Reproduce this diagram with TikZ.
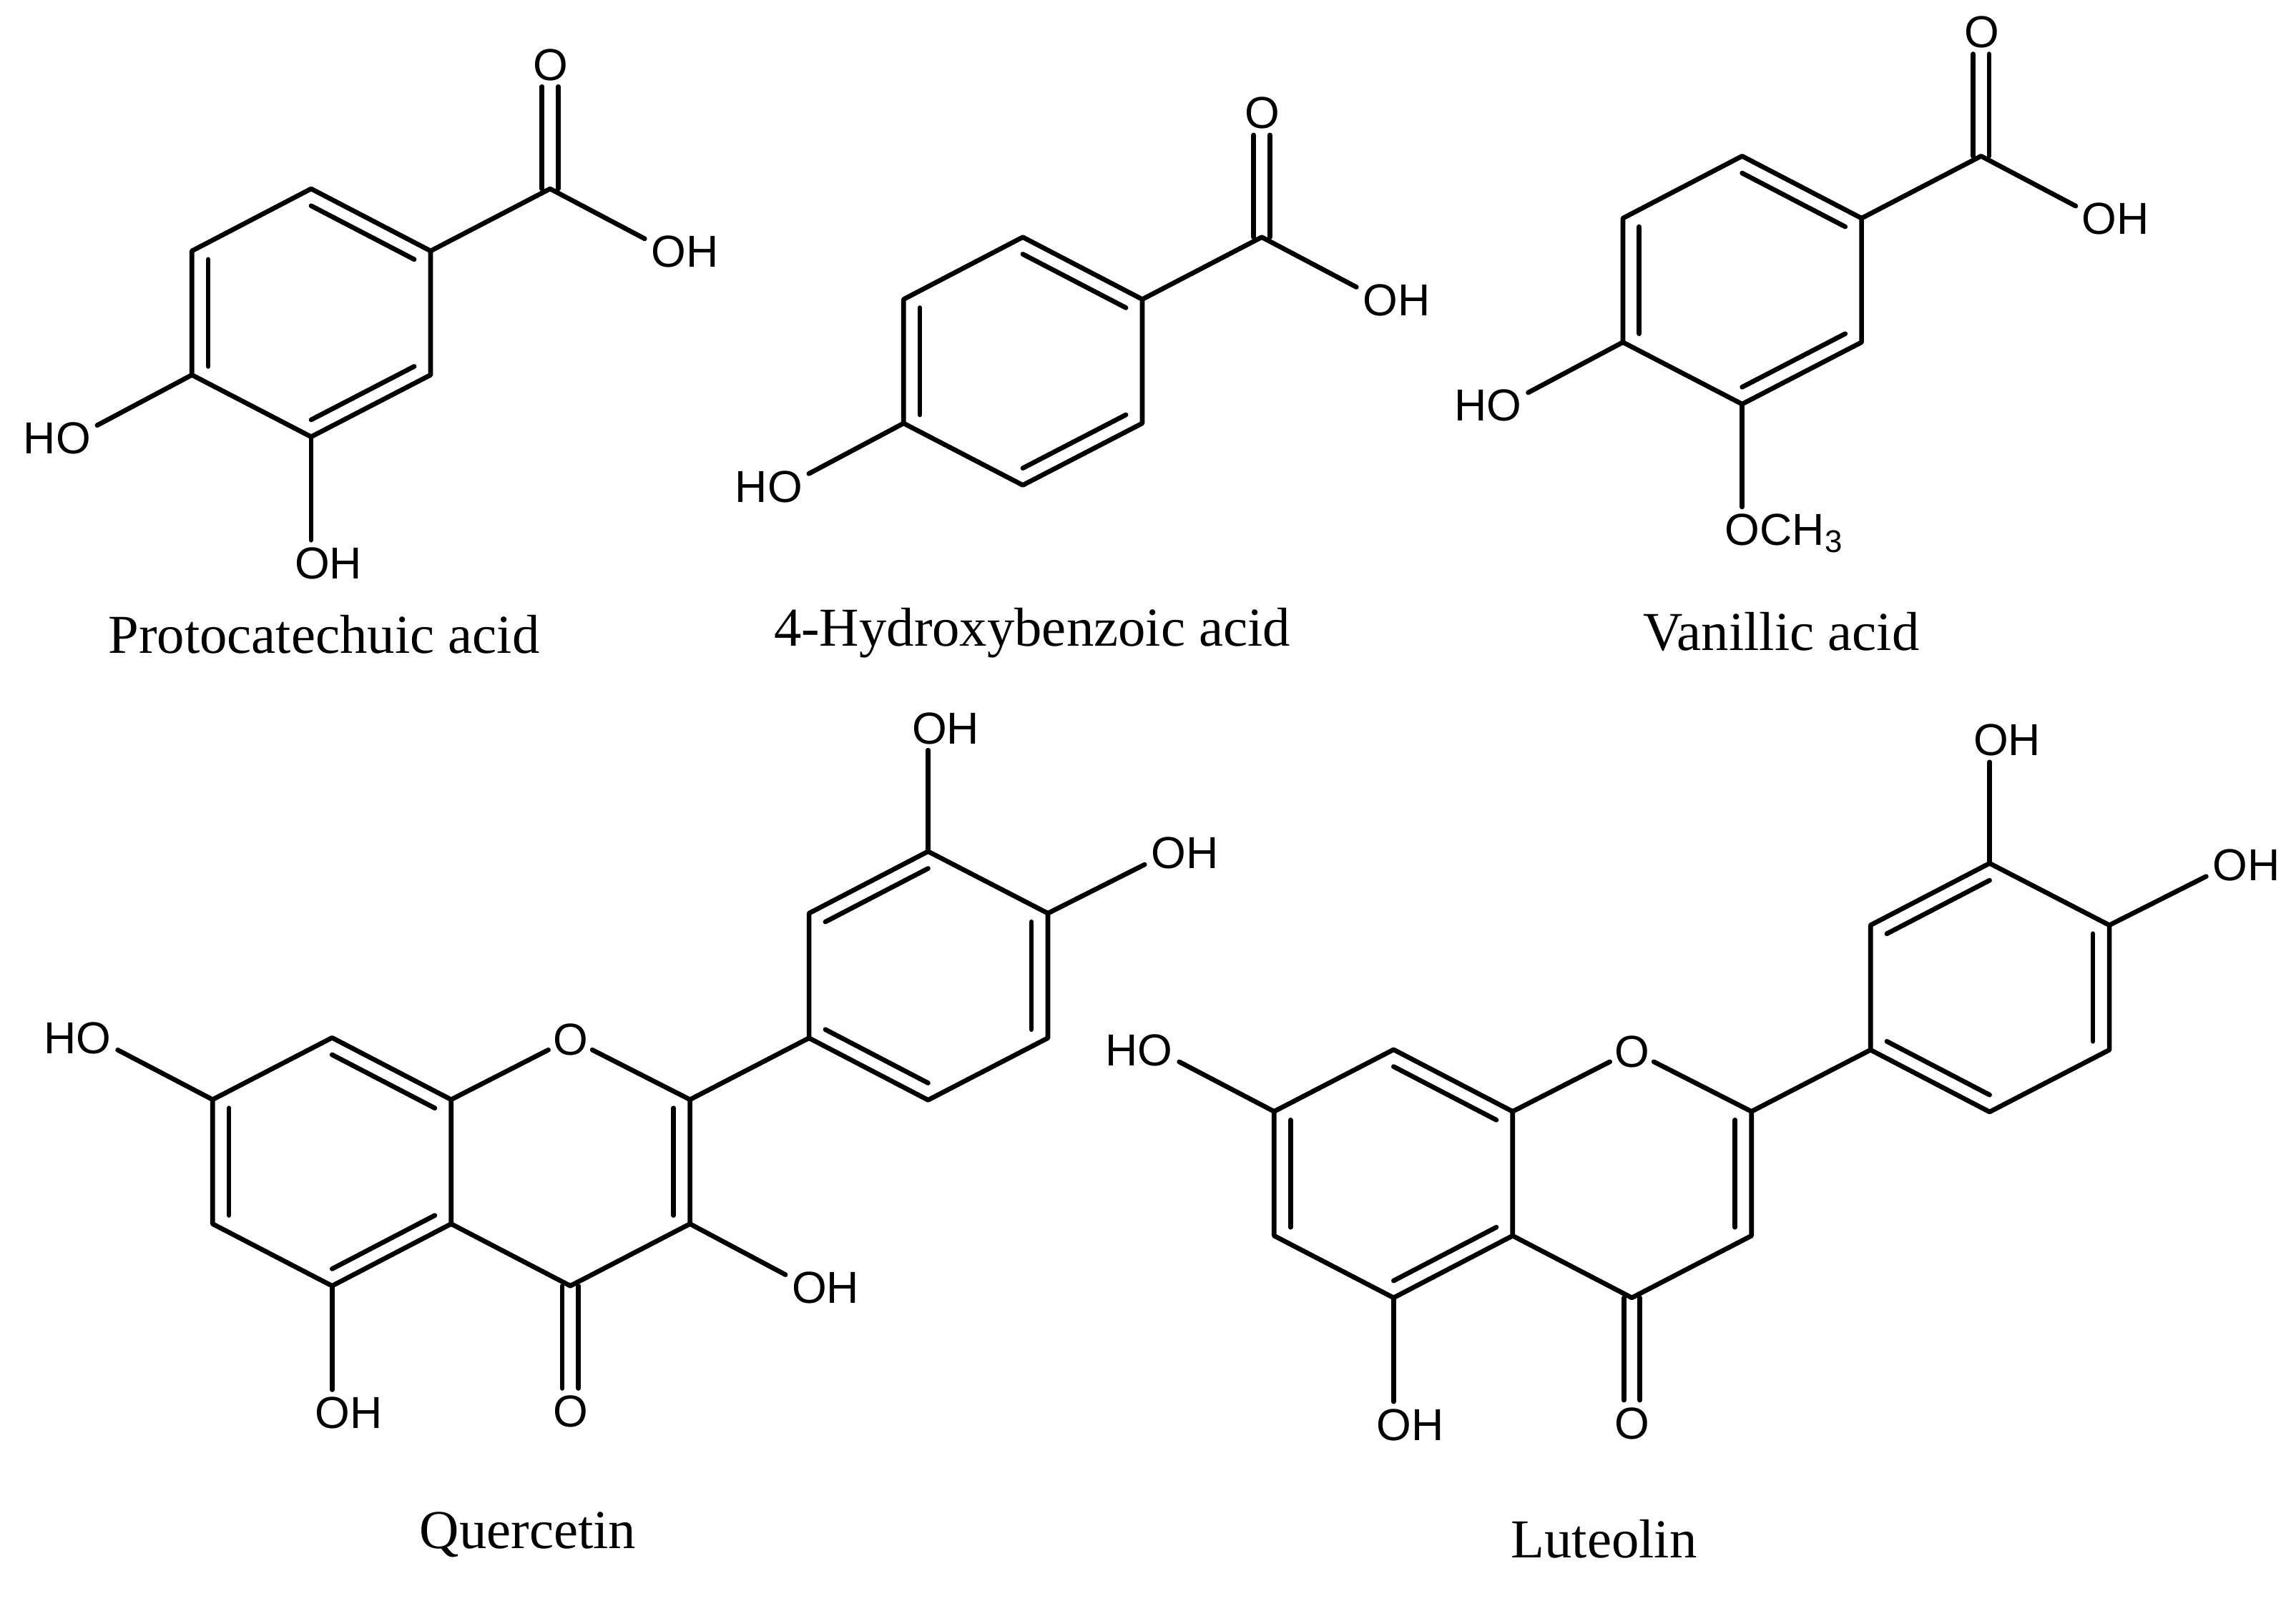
\documentclass[tikz,border=0pt]{standalone}
\usepackage{fontspec}
\setmainfont{Liberation Serif}
\newfontfamily\labelfont{Liberation Sans}
\usetikzlibrary{calc}
\tikzset{
  bond/.style={draw=black,line width=1.85pt,line cap=round,line join=round},
  atomlabel/.style={inner sep=0pt,text height=12.5pt,text depth=0pt,font=\labelfont\fontsize{17.4}{20}\selectfont,text=black},
  caption/.style={inner sep=0pt,font=\fontsize{21.3}{25}\selectfont,text=black}
}
\newcommand{\inbond}[3]{\draw[bond] ($(#1)!.137!(#3)$) -- ($(#2)!.137!(#3)$);}
% carbonyl double bond: two parallel lines from carbon to the oxygen label above or below
\newcommand{\carbonyl}[3]{%
  \draw[bond] ($(#1)+(-5.5,0)$) -- ($(#1 |- #2)+(-5.5,#3)$);
  \draw[bond] ($(#1)+(5.5,0)$) -- ($(#1 |- #2)+(5.5,#3)$);}
% benzoic acid: prefix, with ring coordinates relative to the scope
\newcommand{\benzoic}[1]{%
  \coordinate (#1t) at (0,0);
  \coordinate (#1ur) at (81.5,42.4);
  \coordinate (#1lr) at (81.5,127);
  \coordinate (#1b) at (0,169.2);
  \coordinate (#1ll) at (-81.3,127);
  \coordinate (#1ul) at (-81.3,42.4);
  \coordinate (#1cen) at (0,84.6);
  \coordinate (#1c) at (163,0);
  \node[atomlabel] (#1o) at (163.5,-85) {O};
  \node[atomlabel] (#1oh) at (254.8,42.4) {OH};
  \draw[bond] (#1t) -- (#1ur) -- (#1lr) -- (#1b) -- (#1ll) -- (#1ul) -- cycle;
  \inbond{#1t}{#1ur}{#1cen}
  \inbond{#1ul}{#1ll}{#1cen}
  \inbond{#1lr}{#1b}{#1cen}
  \draw[bond] (#1ur) -- (#1c) -- ($(#1oh.north west)+(-4,3)$);
  \carbonyl{#1c}{#1o.south}{4}
  \node[atomlabel] (#1ho) at (-173.2,169.7) {HO};
  \draw[bond] (#1ll) -- ($(#1ho.north east)+(4,3)$);
}
% flavone skeleton
\newcommand{\flavone}[1]{%
  \coordinate (#1at) at (226.5,708);
  \coordinate (#1aur) at (307.7,750.2);
  \coordinate (#1alr) at (307.7,835);
  \coordinate (#1ab) at (226.5,877.3);
  \coordinate (#1all) at (145,835);
  \coordinate (#1aul) at (145,750.2);
  \coordinate (#1acen) at (226.5,792.6);
  \node[atomlabel] (#1ox) at (389,708.8) {O};
  \coordinate (#1ctwo) at (470.6,750.2);
  \coordinate (#1cthree) at (470.6,835);
  \coordinate (#1cfour) at (389,877.3);
  \coordinate (#1ccen) at (389,792.6);
  \coordinate (#1bll) at (551.8,708.2);
  \coordinate (#1bul) at (551.8,623.1);
  \coordinate (#1bt) at (633,580.9);
  \coordinate (#1bur) at (714.7,623.1);
  \coordinate (#1blr) at (714.7,708.2);
  \coordinate (#1bb) at (633,750.5);
  \coordinate (#1bcen) at (633,665.7);
  \node[atomlabel] (#1ho) at (53,708) {HO};
  \node[atomlabel] (#1oha) at (238,963.5) {OH};
  \node[atomlabel] (#1oc) at (389,962.5) {O};
  \node[atomlabel] (#1ohb) at (645,496.5) {OH};
  \node[atomlabel] (#1ohc) at (808,581.5) {OH};
  \draw[bond] (#1at) -- (#1aur) -- (#1alr) -- (#1ab) -- (#1all) -- (#1aul) -- cycle;
  \inbond{#1at}{#1aur}{#1acen}
  \inbond{#1aul}{#1all}{#1acen}
  \inbond{#1alr}{#1ab}{#1acen}
  \draw[bond] (#1aur) -- ($(#1ox)+(-15,7.5)$);
  \draw[bond] ($(#1ox)+(15,7.5)$) -- (#1ctwo) -- (#1cthree) -- (#1cfour) -- (#1alr);
  \inbond{#1ctwo}{#1cthree}{#1ccen}
  \draw[bond] (#1ctwo) -- (#1bll);
  \draw[bond] (#1bll) -- (#1bul) -- (#1bt) -- (#1bur) -- (#1blr) -- (#1bb) -- cycle;
  \inbond{#1bul}{#1bt}{#1bcen}
  \inbond{#1bur}{#1blr}{#1bcen}
  \inbond{#1bll}{#1bb}{#1bcen}
  \draw[bond] (#1aul) -- ($(#1ho.south east)+(4,-3)$);
  \draw[bond] (#1ab) -- ($(#1ab |- #1oha.north)+(0,-4)$);
  \carbonyl{#1cfour}{#1oc.north}{-4}
  \draw[bond] (#1bt) -- ($(#1bt |- #1ohb.south)+(0,4)$);
  \draw[bond] (#1bur) -- ($(#1ohc.south west)+(-4,-3)$);
}
\begin{document}
\begin{tikzpicture}[x=0.02cm,y=-0.02cm]
\useasboundingbox (0,0) rectangle (1566,1092);
% Protocatechuic acid
\begin{scope}[shift={(212.2,128.8)}]
  \benzoic{pa}
  \node[atomlabel] (paohb) at (11.8,255) {OH};
  \draw[bond] (pab) -- ($(pab |- paohb.north)+(0,-4)$);
\end{scope}
\node[caption] (palabel) at (221,433) {Protocatechuic acid};
% 4-Hydroxybenzoic acid
\begin{scope}[shift={(697.6,161.8)}]
  \benzoic{hb}
\end{scope}
\node[caption] (hblabel) at (704,432) {4-Hydroxybenzoic acid};
% Vanillic acid
\begin{scope}[shift={(1188.2,106.5)}]
  \benzoic{va}
  \node[atomlabel] (vaome) at (28.8,254.7) {OCH\textsubscript{3}};
  \draw[bond] (vab) -- ($(vab |- vaome.north)+(0,-4)$);
\end{scope}
\node[caption] (valabel) at (1215,431) {Vanillic acid};
% Quercetin
\begin{scope}
  \flavone{q}
  \node[atomlabel] (qohd) at (563,878) {OH};
  \draw[bond] (qcthree) -- ($(qohd.north west)+(-4,3)$);
\end{scope}
\node[caption] (qlabel) at (360,1047) {Quercetin};
% Luteolin
\begin{scope}[shift={(724,8.1)}]
  \flavone{l}
\end{scope}
\node[caption] (llabel) at (1094,1050) {Luteolin};
\end{tikzpicture}
\end{document}
